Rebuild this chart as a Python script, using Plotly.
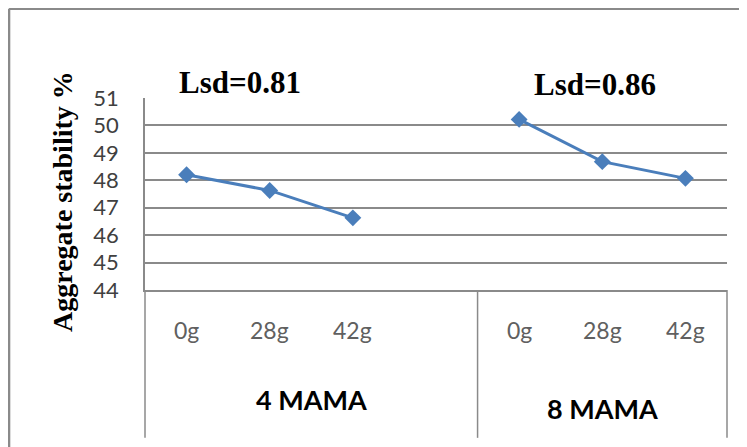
import plotly.graph_objects as go

# ---- data ----
groups = ["4 MAMA", "8 MAMA"]
doses = ["0g", "28g", "42g"]
stability_4mama = [48.2, 47.63, 46.63]
stability_8mama = [50.22, 48.68, 48.07]
lsd_labels = ["Lsd=0.81", "Lsd=0.86"]
y_ticks = [44, 45, 46, 47, 48, 49, 50, 51]
y_title = "Aggregate stability %"

# category slots: first group has a trailing empty slot (as in the original Excel chart)
group_series = [stability_4mama, stability_8mama]
slots_per_group = [len(doses) + 1, len(doses)]

xs, ys, slot_labels = [], [], []
group_bounds = []
pos = 0
for g, vals in enumerate(group_series):
    start = pos + 0.5
    for i, d in enumerate(doses):
        pos += 1
        xs.append(pos)
        ys.append(vals[i])
        slot_labels.append((pos, d))
    for _ in range(slots_per_group[g] - len(doses)):
        pos += 1
        xs.append(pos)
        ys.append(None)
    group_bounds.append((start, pos + 0.5))

LINE_COLOR = "#4a7ebb"
GRID = "#8a8a8a"

fig = go.Figure()
fig.add_trace(go.Scatter(
    x=xs, y=ys, mode="lines+markers", connectgaps=False,
    line=dict(color=LINE_COLOR, width=3),
    marker=dict(symbol="diamond", size=13, color=LINE_COLOR),
    showlegend=False, hoverinfo="skip",
))

annotations = []
# dose labels
for x, lab in slot_labels:
    annotations.append(dict(
        x=x, xref="x", y=0, yref="paper", yanchor="middle", yshift=-40,
        text=lab, showarrow=False,
        font=dict(family="Lato", size=23, color="#606060"),
    ))
# group labels
for g, (a, b) in enumerate(group_bounds):
    annotations.append(dict(
        x=(a + b) / 2, xref="x", y=0, yref="paper", yanchor="middle",
        yshift=[-109, -118][g],
        text="<b>%s</b>" % groups[g], showarrow=False,
        font=dict(family="Lato", size=27, color="black"),
    ))
# Lsd labels above the middle dose of each group
mid_positions = [slot_labels[1][0], slot_labels[4][0]]
for g, x in enumerate(mid_positions):
    annotations.append(dict(
        x=x, xref="x", xshift=[-30, -7][g], y=1, yref="paper", yanchor="middle",
        yshift=[16, 14][g],
        text="<b>%s</b>" % lsd_labels[g], showarrow=False,
        font=dict(family="Liberation Serif", size=31, color="black"),
    ))
# y-axis title
annotations.append(dict(
    x=0, xref="paper", xanchor="center", xshift=-83,
    y=0.5, yref="paper", yanchor="middle", yshift=-8,
    text="<b>%s</b>" % y_title, textangle=-90, showarrow=False,
    font=dict(family="Liberation Serif", size=28, color="black"),
))

shapes = []
# category separators below the axis
sep_line = dict(color=GRID, width=1.5)
for xr, xv in [("x domain", 0), ("x", group_bounds[0][1]), ("x domain", 1)]:
    shapes.append(dict(type="line", xref=xr, x0=xv, x1=xv, yref="paper",
                       y0=0, y1=-0.77, line=sep_line))
# outer chart border (left and top edges; the rest lies outside the picture)
border = dict(color="#8a8a8a", width=2.5)
shapes.append(dict(type="line", xref="paper", yref="paper", x0=-0.2336, x1=-0.2336,
                   y0=-1.0, y1=1.465, line=border))
shapes.append(dict(type="line", xref="paper", yref="paper", x0=-0.2336, x1=1.1,
                   y0=1.465, y1=1.465, line=border))

fig.update_layout(
    width=739, height=439,
    margin=dict(l=137, r=20, t=90, b=157),
    paper_bgcolor="white", plot_bgcolor="white",
    xaxis=dict(range=[0.5, pos + 0.5], showticklabels=False, showgrid=False,
               zeroline=False, showline=True, linecolor=GRID, linewidth=1.5),
    yaxis=dict(range=[y_ticks[0], y_ticks[-1]], tickvals=y_ticks, showgrid=True,
               gridcolor=GRID, gridwidth=1.5, zeroline=False, showline=True,
               linecolor=GRID, linewidth=1.5, ticks="", ticklabelstandoff=20,
               tickfont=dict(family="Lato", size=22, color="#404040")),
    annotations=annotations, shapes=shapes,
)

fig.write_html("out.html")
